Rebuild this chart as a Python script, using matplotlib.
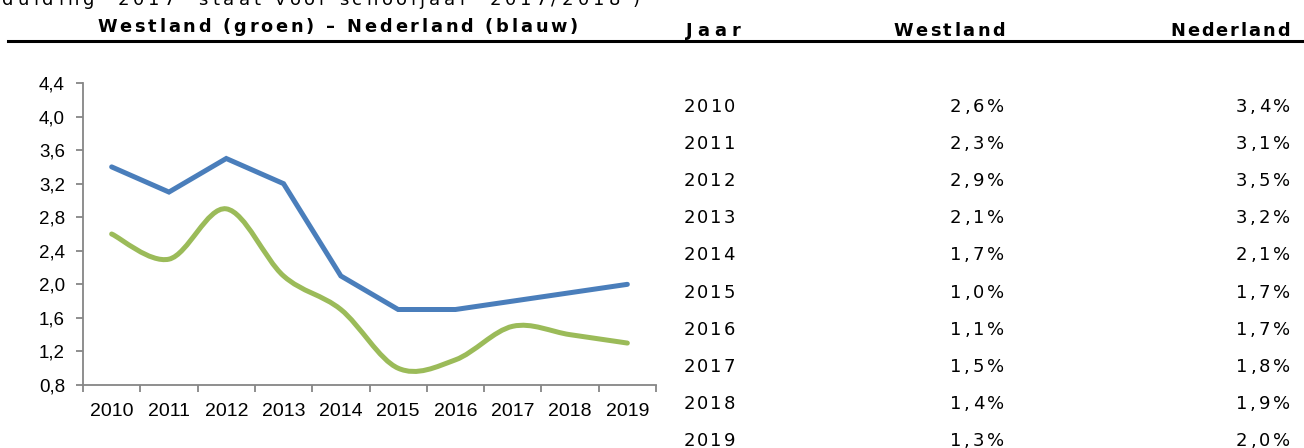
import numpy as np
import matplotlib
matplotlib.use("Agg")
import matplotlib.pyplot as plt
from matplotlib.path import Path
from matplotlib.patches import PathPatch
from matplotlib.font_manager import FontProperties

years = [2010, 2011, 2012, 2013, 2014, 2015, 2016, 2017, 2018, 2019]
westland = [2.6, 2.3, 2.9, 2.1, 1.7, 1.0, 1.1, 1.5, 1.4, 1.3]
nederland = [3.4, 3.1, 3.5, 3.2, 2.1, 1.7, 1.7, 1.8, 1.9, 2.0]
yticks = [0.8, 1.2, 1.6, 2.0, 2.4, 2.8, 3.2, 3.6, 4.0, 4.4]

W, H = 1304, 448
fig = plt.figure(figsize=(W / 100, H / 100), dpi=100)
renderer = fig.canvas.get_renderer()
TICKFONT = ["Liberation Sans", "DejaVu Sans"]
TABFONT = ["DejaVu Sans"]


def advance(c, prop):
    # advance width of one character in pixels
    m = lambda t: renderer.get_text_width_height_descent(t, prop, ismath=False)[0]
    return m("x" + c + "x") - m("xx")


def spaced(x, y, s, size, weight="normal", track=None, width=None, ha="left"):
    # pixel coords from top-left, y = baseline; letter-spaced text
    prop = FontProperties(family=TABFONT, size=size, weight=weight)
    widths = [advance(c, prop) for c in s]
    if track is None:
        track = (width - sum(widths)) / (len(s) - 1)
    total = sum(widths) + track * (len(s) - 1)
    if ha == "right":
        x -= total
    elif ha == "center":
        x -= total / 2
    for c, w in zip(s, widths):
        fig.text(x / W, 1 - y / H, c, fontproperties=prop, va="baseline", ha="left")
        x += w + track


def comma(v, fmt="{:.1f}"):
    return fmt.format(v).replace(".", ",")


# chart
ax = fig.add_axes([83 / W, 1 - 385 / H, (656 - 83) / W, (385 - 83) / H])
x = np.arange(len(years))
ax.plot(x, nederland, color="#4a7ebb", lw=3.6, solid_joinstyle="miter", solid_capstyle="round")

# smoothed line for Westland (bezier through the points)
pts = np.column_stack([x, westland]).astype(float)
verts = [tuple(pts[0])]
codes = [Path.MOVETO]
for i in range(len(pts) - 1):
    p0 = pts[max(i - 1, 0)]
    p1 = pts[i]
    p2 = pts[i + 1]
    p3 = pts[min(i + 2, len(pts) - 1)]
    c1 = p1 + (p2 - p0) / 6
    c2 = p2 - (p3 - p1) / 6
    verts += [tuple(c1), tuple(c2), tuple(p2)]
    codes += [Path.CURVE4] * 3
ax.add_patch(PathPatch(Path(verts, codes), fill=False, edgecolor="#9bbb59",
                       lw=3.6, capstyle="round"))

ax.set_xlim(-0.5, len(years) - 0.5)
ax.set_ylim(0.8, 4.4)
ax.set_yticks(yticks)
ax.set_yticklabels([comma(v) for v in yticks])
ax.set_xticks(x)
ax.set_xticklabels([str(y) for y in years])
ax.set_xticks(np.arange(-0.5, len(years)), minor=True)
ax.tick_params(axis="x", which="major", length=0, pad=13, labelsize=14)
ax.tick_params(axis="x", which="minor", length=5, width=1.3, color="#868686", direction="out")
ax.tick_params(axis="y", length=5, width=1.3, color="#868686", pad=8, labelsize=13.5)
for lab in ax.get_xticklabels() + ax.get_yticklabels():
    lab.set_fontfamily(TICKFONT)
for s in ["top", "right"]:
    ax.spines[s].set_visible(False)
for s in ["left", "bottom"]:
    ax.spines[s].set_color("#868686")
    ax.spines[s].set_linewidth(1.3)

# cut-off caption at the very top
spaced(2, 5, "duiding '2017' staat voor schooljaar '2017/2018')", 13, width=638)

# headers
spaced(97, 32, "Westland (groen) – Nederland (blauw)", 12.8, weight="bold", width=481)
spaced(686, 36, "Jaar", 12.8, weight="bold", width=54)
spaced(1005, 36, "Westland", 12.8, weight="bold", width=112, ha="right")
spaced(1290, 36, "Nederland", 12.8, weight="bold", width=120, ha="right")
fig.add_artist(plt.Line2D([8 / W, 1], [1 - 41.5 / H, 1 - 41.5 / H], color="black", lw=2.2))

# table rows
for i, (yr, w, n) in enumerate(zip(years, westland, nederland)):
    base = 112 + 37.1 * i
    spaced(684, base, str(yr), 13, width=51)
    spaced(1004, base, comma(w) + "%", 13, track=2.8, ha="right")
    spaced(1290, base, comma(n) + "%", 13, track=2.8, ha="right")

fig.savefig("out.png", dpi=100)
